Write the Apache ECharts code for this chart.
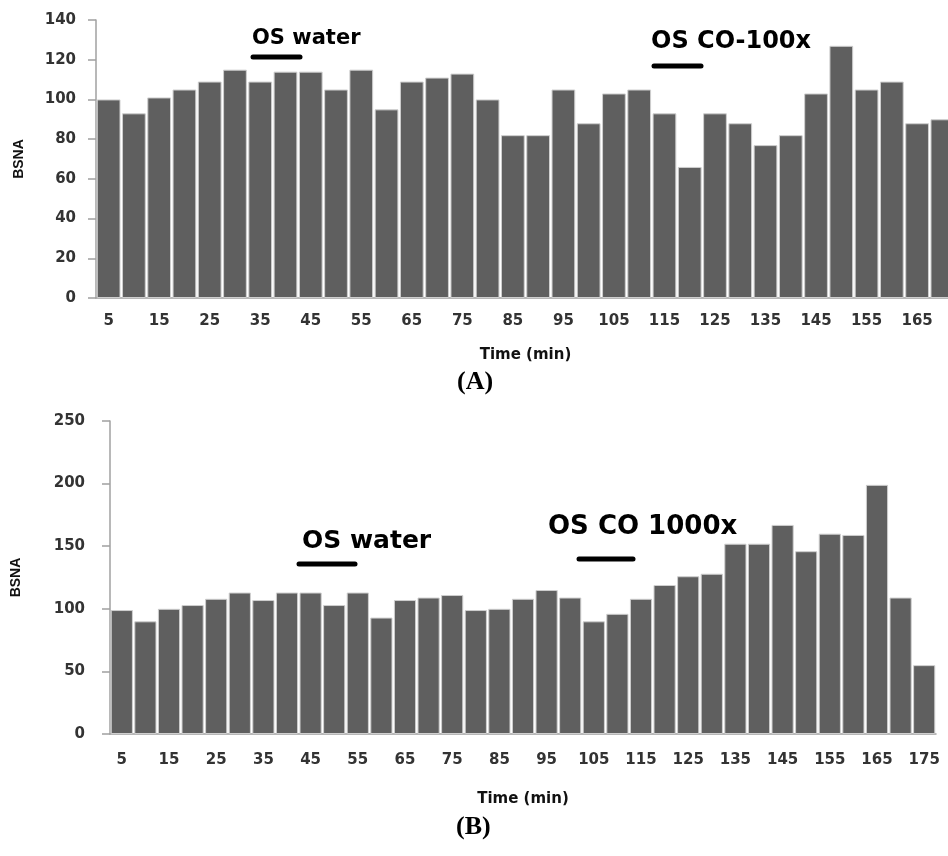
<!DOCTYPE html>
<html>
<head>
<meta charset="utf-8">
<script src="https://cdn.jsdelivr.net/npm/echarts@6/dist/echarts.min.js"></script>
<style>
  html, body { margin: 0; padding: 0; background: #fff; overflow: hidden; }
  #main { width: 960px; height: 856px; }
</style>
</head>
<body>
<div id="main"></div>
<script>
// time points (min)
var timesA = [5,10,15,20,25,30,35,40,45,50,55,60,65,70,75,80,85,90,95,100,105,110,115,120,125,130,135,140,145,150,155,160,165,170];
var timesB = [5,10,15,20,25,30,35,40,45,50,55,60,65,70,75,80,85,90,95,100,105,110,115,120,125,130,135,140,145,150,155,160,165,170,175];

// BSNA values
var bsnaA = [100,93,101,105,109,115,109,114,114,105,115,95,109,111,113,100,82,82,105,88,103,105,93,66,93,88,77,82,103,127,105,109,88,90];
var bsnaB = [99,90,100,103,108,113,107,113,113,103,113,93,107,109,111,99,100,108,115,109,90,96,108,119,126,128,152,152,167,146,160,159,199,109,55];

var myChart = echarts.init(document.getElementById('main'));

var tickFont = { fontFamily: 'DejaVu Sans', fontWeight: 'bold', fontSize: 15, color: '#333' };
var nameFont = { fontFamily: 'DejaVu Sans', fontWeight: 'bold', fontSize: 15, color: '#111' };
var axisGray = { lineStyle: { color: '#a0a0a0', width: 1.5 } };
var barStyle = { color: '#5f5f5f', borderColor: '#cfcfcf', borderWidth: 1 };

function note(text, x, y, size) {
    return {
        type: 'text', left: x, top: y,
        style: { text: text, fontFamily: 'DejaVu Sans', fontWeight: 'bold', fontSize: size, fill: '#000' }
    };
}
function dash(x1, x2, y, w) {
    return {
        type: 'line',
        shape: { x1: x1, y1: y, x2: x2, y2: y },
        style: { stroke: '#000', lineWidth: w, lineCap: 'round' }
    };
}

myChart.setOption({
    animation: false,
    grid: [
        { left: 96, top: 20, width: 859, height: 278 },
        { left: 110, top: 421, width: 826, height: 313 }
    ],
    xAxis: [
        {
            type: 'category', gridIndex: 0, data: timesA,
            axisLine: axisGray, axisTick: { show: false },
            axisLabel: Object.assign({ interval: 1, margin: 16 }, tickFont),
            name: 'Time (min)', nameLocation: 'middle', nameGap: 50, nameTextStyle: nameFont
        },
        {
            type: 'category', gridIndex: 1, data: timesB,
            axisLine: axisGray, axisTick: { show: false },
            axisLabel: Object.assign({ interval: 1, margin: 19 }, tickFont),
            name: 'Time (min)', nameLocation: 'middle', nameGap: 58, nameTextStyle: nameFont
        }
    ],
    yAxis: [
        {
            type: 'value', gridIndex: 0, min: 0, max: 140, interval: 20,
            axisLine: Object.assign({ show: true }, axisGray),
            axisTick: { show: true, length: 8, lineStyle: { color: '#a0a0a0', width: 1.5 } },
            splitLine: { show: false },
            axisLabel: Object.assign({ margin: 20 }, tickFont),
            name: 'BSNA', nameLocation: 'middle', nameGap: 70,
            nameTextStyle: { fontFamily: 'Liberation Sans', fontWeight: 'bold', fontSize: 14, color: '#111' }
        },
        {
            type: 'value', gridIndex: 1, min: 0, max: 250, interval: 50,
            axisLine: Object.assign({ show: true }, axisGray),
            axisTick: { show: true, length: 8, lineStyle: { color: '#a0a0a0', width: 1.5 } },
            splitLine: { show: false },
            axisLabel: Object.assign({ margin: 25 }, tickFont),
            name: 'BSNA', nameLocation: 'middle', nameGap: 87,
            nameTextStyle: { fontFamily: 'Liberation Sans', fontWeight: 'bold', fontSize: 14, color: '#111' }
        }
    ],
    series: [
        {
            type: 'bar', xAxisIndex: 0, yAxisIndex: 0, data: bsnaA,
            barCategoryGap: '6%', itemStyle: barStyle, silent: true
        },
        {
            type: 'bar', xAxisIndex: 1, yAxisIndex: 1, data: bsnaB,
            barCategoryGap: '6%', itemStyle: barStyle, silent: true
        }
    ],
    graphic: [
        note('OS water', 252, 28, 21),
        dash(253, 300, 57, 5),
        note('OS CO-100x', 651, 30, 24),
        dash(654, 701, 66, 5),
        note('OS water', 302, 529, 25),
        dash(299, 355, 564, 5),
        note('OS CO 1000x', 548, 514, 26),
        dash(579, 633, 559, 5),
        {
            type: 'text', left: 457, top: 369,
            style: { text: '(A)', fontFamily: 'Liberation Serif', fontWeight: 'bold', fontSize: 26, fill: '#000' }
        },
        {
            type: 'text', left: 456, top: 814,
            style: { text: '(B)', fontFamily: 'Liberation Serif', fontWeight: 'bold', fontSize: 26, fill: '#000' }
        }
    ]
});
</script>
</body>
</html>
